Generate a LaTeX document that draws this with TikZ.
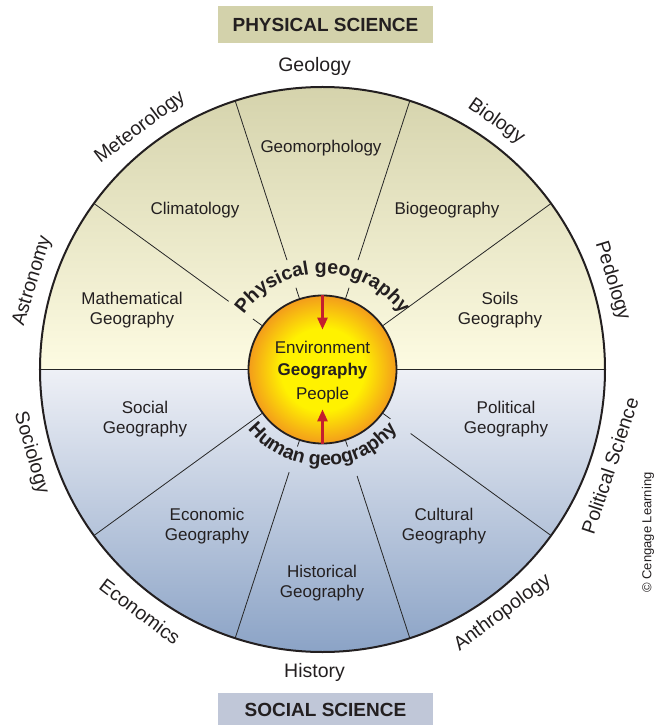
\documentclass[tikz,border=0pt]{standalone}
\usepackage{fontspec}
\setmainfont{Liberation Sans}
\usetikzlibrary{decorations.text,arrows.meta}

\definecolor{inkgray}{HTML}{231F20}
\definecolor{physdark}{HTML}{D5D3AC}
\definecolor{physlight}{HTML}{FDFBE2}
\definecolor{socdark}{HTML}{8BA3C6}
\definecolor{soclight}{HTML}{EEF0F6}
\definecolor{physbox}{HTML}{D3D2AB}
\definecolor{socbox}{HTML}{C0C7D8}
\definecolor{coreyellow}{HTML}{FFF200}
\definecolor{coreorange}{HTML}{F39C1B}
\definecolor{arrowred}{HTML}{C41E2E}

% warm glow for the hub (circle edge sits at 25bp)
\pgfdeclareradialshading{coreglow}{\pgfpoint{0bp}{0bp}}{color(0bp)=(coreyellow); color(14bp)=(coreyellow); color(25bp)=(coreorange); color(50bp)=(coreorange)}

\begin{document}
\begin{tikzpicture}[x=1pt, y=1pt,
    spoke/.style={line width=0.8pt, draw=black!85},
    area/.style={font=\fontsize{17}{20}\selectfont, text=inkgray, align=center},
    field/.style={font=\fontsize{19.5}{22}\selectfont, text=inkgray, inner sep=0pt},
    banner/.style={font=\bfseries\fontsize{19}{22}\selectfont, text=inkgray,
        minimum width=215pt, minimum height=37pt, inner sep=0pt},
    redarrow/.style={draw=arrowred, line width=2.6pt, -{Triangle[length=12pt,width=10pt]}}]
\newcommand{\wheelspoke}[3]{
    \draw[spoke] (#1:74) -- (#1:#2) (#1:#3) -- (#1:282.5);
}
\useasboundingbox (-322.5,-355.5) rectangle (335.5,369.5);

% the two halves of the wheel
\fill[top color=physdark, bottom color=physlight] (0:282.5) arc[start angle=0, end angle=180, radius=282.5] -- cycle;
\fill[top color=soclight, bottom color=socdark] (180:282.5) arc[start angle=180, end angle=360, radius=282.5] -- cycle;

% spokes, broken where the curved titles run
\draw[spoke] (180:282.5) -- (180:74) (0:74) -- (0:282.5);
\draw[spoke] (36:74) -- (36:282.5);
\draw[spoke] (216:74) -- (216:282.5);
\wheelspoke{72}{86}{115}
\wheelspoke{108}{86}{115}
\wheelspoke{144}{86}{116}
\wheelspoke{252}{81}{108}
\wheelspoke{288}{81}{112}
\wheelspoke{324}{84}{109}

\draw[line width=2pt, draw=inkgray] (0,0) circle (282.5);

% hub
\node[circle, draw=inkgray, line width=1.8pt, shading=coreglow, minimum size=148pt, inner sep=0pt] (core) at (0,0) {};
\node[area] (env) at (0,22) {Environment};
\node[area, font=\bfseries\fontsize{17}{20}\selectfont] (geo) at (0,-1.5) {Geography};
\node[area] (people) at (0,-25.5) {People};
\draw[redarrow] (core.north) -- ([yshift=-35pt]core.north);
\draw[redarrow] (core.south) -- ([yshift=35pt]core.south);

% curved titles
\path[decorate, decoration={text along path, text align=center,
    text={|\bfseries\fontsize{19.5}{22}\selectfont\color{inkgray}|Physical geography}}]
    (180:96) arc[start angle=180, end angle=0, radius=96];
\path[decorate, decoration={text along path, text align=center,
    text={|\bfseries\fontsize{19.5}{22}\selectfont\color{inkgray}|Human geography}}]
    (180:96) arc[start angle=180, end angle=360, radius=96];

% branches of geography
\node[area] (geomorph) at (-1.5,221.5) {Geomorphology};
\node[area] (clima) at (-127.5,159.5) {Climatology};
\node[area] (biogeo) at (124.5,159.5) {Biogeography};
\node[area] (mathgeo) at (-190.5,59.5) {Mathematical\\Geography};
\node[area] (soilgeo) at (177.5,59.5) {Soils\\Geography};
\node[area] (socgeo) at (-177.5,-49.5) {Social\\Geography};
\node[area] (polgeo) at (183.5,-49.5) {Political\\Geography};
\node[area] (econgeo) at (-115.5,-156.5) {Economic\\Geography};
\node[area] (cultgeo) at (121.5,-156.5) {Cultural\\Geography};
\node[area] (histgeo) at (-0.5,-213.5) {Historical\\Geography};

% neighbouring sciences round the rim
\foreach \ang/\tilt/\word [count=\i] in {91.5/0/Geology, 55/-35/Biology, 17/-73/Pedology,
    341.5/71.5/Political Science, 306.5/36.5/Anthropology, 268.5/0/History,
    233/-37/Economics, 196/-74/Sociology, 163/73/Astronomy, 127/37/Meteorology}
    \node[field, rotate=\tilt] (rim\i) at (\ang:303) {\word};

% banners
\node[banner, fill=physbox] (physical) at (3,345) {PHYSICAL SCIENCE};
\node[banner, fill=socbox, minimum height=34pt] (social) at (3,-340) {SOCIAL SCIENCE};

\node[font=\fontsize{13}{15}\selectfont, text=inkgray, rotate=90] (credit) at (325.5,-163) {© Cengage Learning};
\end{tikzpicture}
\end{document}
